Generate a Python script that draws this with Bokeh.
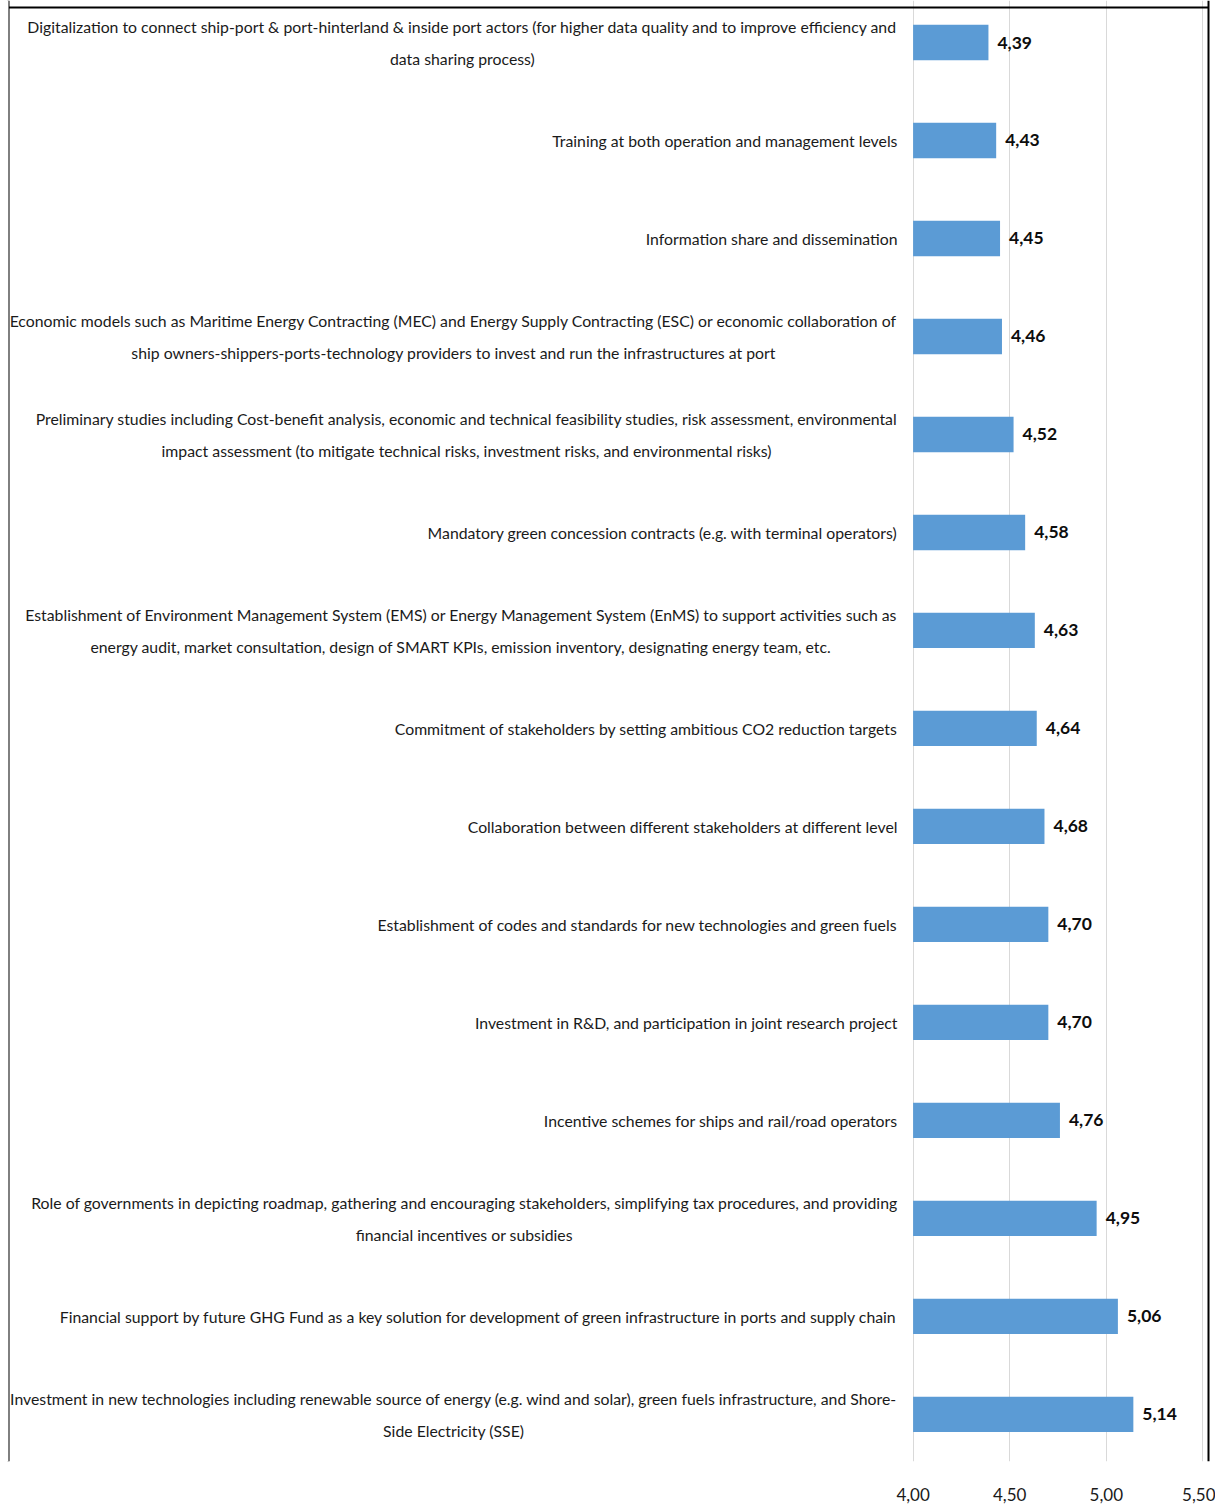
from bokeh.plotting import figure
from bokeh.models import ColumnDataSource, Range1d, FixedTicker, Span, BoxAnnotation, CustomJSTickFormatter
from bokeh.core.properties import value
from bokeh.embed import file_html
from bokeh.resources import INLINE

categories = [
    "Digitalization to connect ship-port & port-hinterland & inside port actors (for higher data quality and to improve efficiency and\ndata sharing process)",
    "Training at both operation and management levels",
    "Information share and dissemination",
    "Economic models such as Maritime Energy Contracting (MEC) and Energy Supply Contracting (ESC) or economic collaboration of\nship owners-shippers-ports-technology providers to invest and run the infrastructures at port",
    "Preliminary studies including Cost-benefit analysis, economic and technical feasibility studies, risk assessment, environmental\nimpact assessment (to mitigate technical risks, investment risks, and environmental risks)",
    "Mandatory green concession contracts (e.g. with terminal operators)",
    "Establishment of Environment Management System (EMS) or Energy Management System (EnMS) to support activities such as\nenergy audit, market consultation, design of SMART KPIs, emission inventory, designating energy team, etc.",
    "Commitment of stakeholders by setting ambitious CO2 reduction targets",
    "Collaboration between different stakeholders at different level",
    "Establishment of codes and standards for new technologies and green fuels",
    "Investment in R&D, and participation in joint research project",
    "Incentive schemes for ships and rail/road operators",
    "Role of governments in depicting roadmap, gathering and encouraging stakeholders, simplifying tax procedures, and providing\nfinancial incentives or subsidies",
    "Financial support by future GHG Fund as a key solution for development of green infrastructure in ports and supply chain",
    "Investment in new technologies including renewable source of energy (e.g. wind and solar), green fuels infrastructure, and Shore-\nSide Electricity (SSE)",
]
scores = [4.39, 4.43, 4.45, 4.46, 4.52, 4.58, 4.63, 4.64, 4.68, 4.70, 4.70, 4.76, 4.95, 5.06, 5.14]
x_ticks = [4.0, 4.5, 5.0, 5.5]
x_base = 4.0

FONT = "Lato"

pos = list(range(len(categories)))
src = ColumnDataSource(dict(
    y=pos,
    cat=categories,
    score=scores,
    base=[x_base] * len(scores),
    lbl=[f"{v:.2f}".replace(".", ",") for v in scores],
    lx=[3.919] * len(scores),
))

p = figure(width=1215, height=1508,
           x_range=Range1d(-0.7236, 5.5652),
           y_range=Range1d(14.48, -0.4286),
           min_border_left=0, min_border_right=0, min_border_top=0, min_border_bottom=47,
           toolbar_location=None, output_backend="svg")
p.outline_line_color = None
p.background_fill_color = "white"
p.border_fill_color = "white"
p.yaxis.visible = False
p.ygrid.visible = False
p.xgrid.ticker = FixedTicker(ticks=x_ticks)
p.xgrid.grid_line_color = "#d9d9d9"
p.xgrid.grid_line_width = 1

p.xaxis.ticker = FixedTicker(ticks=x_ticks)
p.xaxis.formatter = CustomJSTickFormatter(code="return tick.toFixed(2).replace('.', ',');")
p.xaxis.axis_line_color = None
p.xaxis.major_tick_line_color = None
p.xaxis.minor_tick_line_color = None
p.xaxis.major_tick_out = 0
p.xaxis.major_label_standoff = 26
p.xaxis.major_label_text_font = FONT
p.xaxis.major_label_text_font_size = "17px"
p.xaxis.major_label_text_color = "#1a1a1a"

p.hbar(y="y", left="base", right="score", height=0.36, source=src,
       fill_color="#5B9BD5", line_color=None)

p.text(x="score", y="y", text="lbl", source=src, x_offset=9,
       text_align="left", text_baseline="middle",
       text_font=value(FONT), text_font_style="bold",
       text_font_size="17.5px", text_color="#0d0d0d")

p.text(x="lx", y="y", text="cat", source=src,
       anchor=value("center_right"), text_align="center", text_baseline="middle",
       text_font=value(FONT), text_font_size="15.8px",
       text_line_height=1.68, text_color="#1a1a1a")

# chart frame border
p.add_layout(BoxAnnotation(right=-0.6822, fill_color="white", fill_alpha=1.0, line_color=None, level="overlay"))
p.add_layout(Span(location=-0.6822, dimension="height", line_color="black", line_width=2))
p.add_layout(Span(location=5.529, dimension="height", line_color="black", line_width=2))
p.segment(x0=[-0.6822], y0=[-0.357], x1=[5.529], y1=[-0.357], line_color="black", line_width=2)

open("out.html", "w").write(file_html(p, INLINE))
